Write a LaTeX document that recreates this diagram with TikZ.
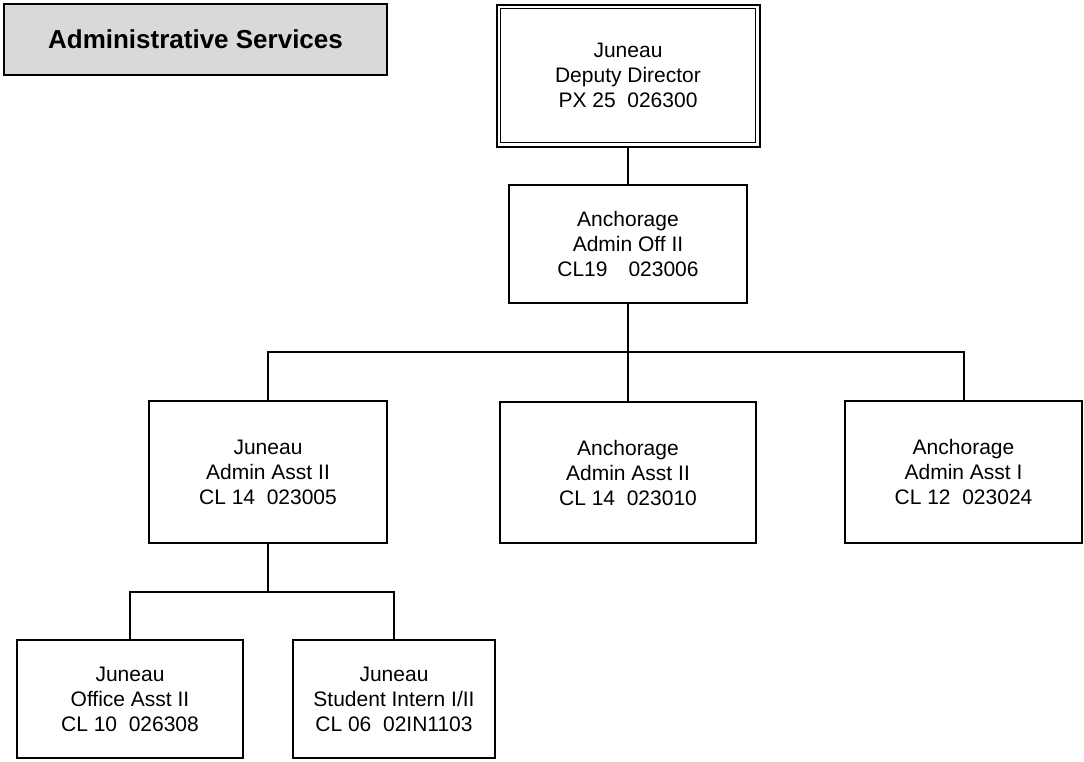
\documentclass[tikz,border=0pt]{standalone}
\usepackage{fontspec}
\setmainfont{Liberation Sans}
\usetikzlibrary{positioning}
\definecolor{titlegray}{HTML}{D9D9D9}
\tikzset{
  org lines/.style={
    line width=2pt,
    every node/.style={
      align=center,
      inner sep=0pt,
      font=\fontsize{21}{25}\selectfont
    },
  },
  post box/.style={draw, line width=2pt},
  top box/.style={draw, line width=1pt},
  title box/.style={draw, line width=2pt, fill=titlegray,
    font=\fontsize{26}{30}\selectfont\bfseries}
}

\begin{document}
\begin{tikzpicture}[x=1pt,y=-1pt,org lines]
\useasboundingbox (0,0) rectangle (1084,761);
\node[title box, minimum width=383pt, minimum height=71pt] (title) at (195.5,39.5) {Administrative Services};
% top of the chart
\node[top box, minimum width=255pt, minimum height=134pt] (deputy) at (628,75.5) {Juneau\\Deputy Director\\PX 25\ \ 026300};
\draw ([xshift=-3.5pt,yshift=3.5pt]deputy.north west) rectangle ([xshift=3.5pt,yshift=-3.5pt]deputy.south east);
\coordinate (deputyout) at ([yshift=-3.5pt]deputy.south);
\node[post box, minimum width=238pt, minimum height=118pt] (offii) at (628,244) {Anchorage\\Admin Off II\\CL19\quad 023006};
% second row
\node[post box, minimum width=238pt, minimum height=142pt] (asstj) at (268,472) {Juneau\\Admin Asst II\\CL 14\ \ 023005};
\node[post box, minimum width=256pt, minimum height=141pt] (asstm) at (628,472.5) {Anchorage\\Admin Asst II\\CL 14\ \ 023010};
\node[post box, minimum width=237pt, minimum height=142pt] (assti) at (963.5,472) {Anchorage\\Admin Asst I\\CL 12\ \ 023024};
% third row
\node[post box, minimum width=226pt, minimum height=118pt] (offasst) at (130,699) {Juneau\\Office Asst II\\CL 10\ \ 026308};
\node[post box, minimum width=202pt, minimum height=118pt] (intern) at (394,699) {Juneau\\Student Intern I/II\\CL 06\ \ 02IN1103};
% connectors
\coordinate (bus1) at (628,352);
\coordinate (bus2) at (268,592);
\draw (deputyout) -- (deputyout |- offii.north);
\draw (offii.south) -- (bus1);
\draw (asstj.north) |- (bus1) -| (assti.north);
\draw (bus1) -- (asstm.north);
\draw (asstj.south) -- (bus2);
\draw (offasst.north) |- (bus2) -| (intern.north);
\end{tikzpicture}
\end{document}
